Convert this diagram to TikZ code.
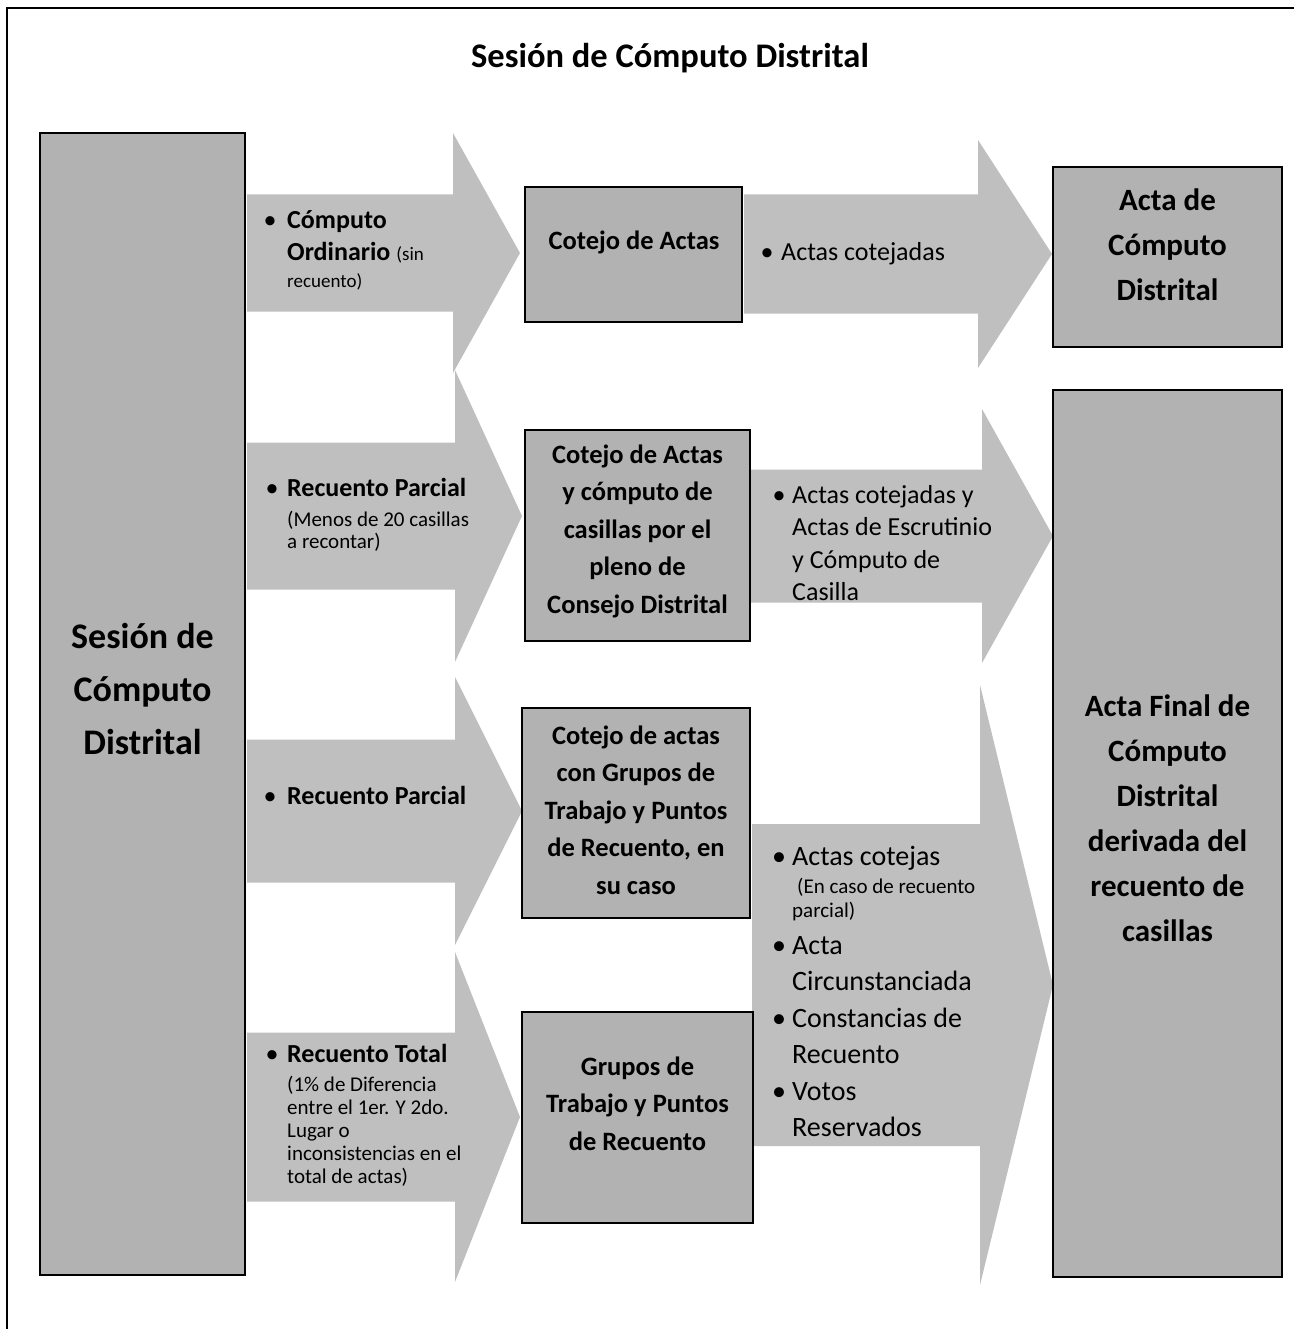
\documentclass[tikz,border=0pt]{standalone}
\usepackage{fontspec}
\setmainfont{Carlito}
\newcommand{\blockarrow}[6]{%
  \fill[arrowfill] (#1,{#4+#5}) -- (#2,{#4+#5}) -- (#2,{#4+#6}) -- (#3,#4) -- (#2,{#4-#6}) -- (#2,{#4-#5}) -- (#1,{#4-#5}) -- cycle;}
\begin{document}
\begin{tikzpicture}[x=1pt,y=1pt,
  arrowfill/.style={fill=black!25},
  boxst/.style={draw=black, line width=1.8pt, fill=black!30, inner sep=0pt},
  ctxt/.style={align=center, inner sep=0pt, font=\bfseries\fontsize{26.5}{37.5}\selectfont},
  bul/.style={anchor=base, inner sep=0pt, font=\fontsize{26}{30}\selectfont},
  ltxt/.style={anchor=base west, inner sep=0pt}]
\useasboundingbox (0,0) rectangle (1294,-1329);
\draw[line width=2.5pt] (7,-1329) -- (7,-8) -- (1294,-8);

% block arrows
\blockarrow{247}{453}{520}{-253}{58.5}{120}
\blockarrow{247}{455}{522}{-516}{73.5}{146}
\blockarrow{247}{455}{522}{-811}{71.5}{134}
\blockarrow{247}{455}{520}{-1117}{84.5}{165}
\blockarrow{744}{978}{1052}{-254}{59.5}{114}
\blockarrow{750}{982}{1053}{-536}{66.5}{127}
\blockarrow{752}{980}{1053}{-985}{161}{300}

% boxes
\node[boxst, minimum width=205pt, minimum height=1142pt] (src) at (142.5,-704) {};
\node[boxst, minimum width=217pt, minimum height=135pt] (m1) at (633.5,-254.5) {};
\node[boxst, minimum width=225pt, minimum height=211pt] (m2) at (637.5,-535.5) {};
\node[boxst, minimum width=228pt, minimum height=210pt] (m3) at (636,-813) {};
\node[boxst, minimum width=231pt, minimum height=211pt] (m4) at (637.5,-1117.5) {};
\node[boxst, minimum width=229pt, minimum height=180pt] (r1) at (1167.5,-257) {};
\node[boxst, minimum width=229pt, minimum height=887pt] (r2) at (1167.5,-833.5) {};

% title
\node[inner sep=0pt, font=\bfseries\fontsize{34.5}{40}\selectfont] (title) at (670,-58) {Sesión de Cómputo Distrital};

% box texts
\node[ctxt, font=\bfseries\fontsize{36}{53}\selectfont] (srct) at (142.5,-689) {Sesión de\\Cómputo\\Distrital};
\node[ctxt] (m1t) at (634,-242) {Cotejo de Actas};
\node[ctxt] (m2t) at (637.5,-531) {Cotejo de Actas\\y cómputo de\\casillas por el\\pleno de\\Consejo Distrital};
\node[ctxt] (m3t) at (636,-810) {Cotejo de actas\\con Grupos de\\Trabajo y Puntos\\de Recuento, en\\su caso};
\node[ctxt] (m4t) at (637.5,-1103.5) {Grupos de\\Trabajo y Puntos\\de Recuento};
\node[ctxt, font=\bfseries\fontsize{31}{45}\selectfont] (r1t) at (1167.5,-245) {Acta de\\Cómputo\\Distrital};
\node[ctxt, font=\bfseries\fontsize{31}{45}\selectfont] (r2t) at (1167.5,-818) {Acta Final de\\Cómputo\\Distrital\\derivada del\\recuento de\\casillas};

% left arrow texts
\node[bul] (l1b) at (270,-229) {\textbullet};
\node[ltxt] (l1t) at (287,-229) {\parbox[t]{250pt}{\fontsize{26}{32}\selectfont\bfseries Cómputo\\Ordinario {\mdseries\fontsize{19}{32}\selectfont (sin}\\[-5pt]{\mdseries\fontsize{19}{27}\selectfont recuento)}}};

\node[bul] (l2b) at (272,-496) {\textbullet};
\node[ltxt] (l2t) at (287,-496) {\parbox[t]{250pt}{\fontsize{21}{22}\selectfont{\bfseries\fontsize{26}{30}\selectfont Recuento Parcial}\\[8pt](Menos de 20 casillas\\a recontar)}};

\node[bul] (l3b) at (270,-804) {\textbullet};
\node[ltxt, font=\bfseries\fontsize{26}{30}\selectfont] (l3t) at (287,-804) {Recuento Parcial};

\node[bul] (l4b) at (272,-1062) {\textbullet};
\node[ltxt] (l4t) at (287,-1062) {\parbox[t]{250pt}{\fontsize{21}{23}\selectfont{\bfseries\fontsize{26}{30}\selectfont Recuento Total}\\[6pt](1\% de Diferencia\\entre el 1er. Y 2do.\\Lugar o\\inconsistencias en el\\total de actas)}};

% right arrow texts
\node[bul] (q1b) at (767,-261) {\textbullet};
\node[ltxt, font=\fontsize{26}{30}\selectfont] (q1t) at (781,-261) {Actas cotejadas};

\node[bul] (q2b) at (779,-503) {\textbullet};
\node[ltxt] (q2t) at (792,-503) {\parbox[t]{250pt}{\fontsize{26}{32.5}\selectfont Actas cotejadas y\\Actas de Escrutinio\\y Cómputo de\\Casilla}};

\node[bul, font=\fontsize{28}{30}\selectfont] (q3b1) at (779,-865) {\textbullet};
\node[bul, font=\fontsize{28}{30}\selectfont] (q3b2) at (779,-954) {\textbullet};
\node[bul, font=\fontsize{28}{30}\selectfont] (q3b3) at (779,-1027) {\textbullet};
\node[bul, font=\fontsize{28}{30}\selectfont] (q3b4) at (779,-1100) {\textbullet};
\node[ltxt] (q3t) at (792,-865) {\parbox[t]{250pt}{\fontsize{28}{36.5}\selectfont Actas cotejas\\[-8.5pt]{\fontsize{21}{23}\selectfont\hspace*{5pt}(En caso de recuento}\\[-12.5pt]{\fontsize{21}{23}\selectfont parcial)}\\[0.5pt]Acta\\Circunstanciada\\Constancias de\\Recuento\\Votos\\Reservados}};
\end{tikzpicture}
\end{document}
